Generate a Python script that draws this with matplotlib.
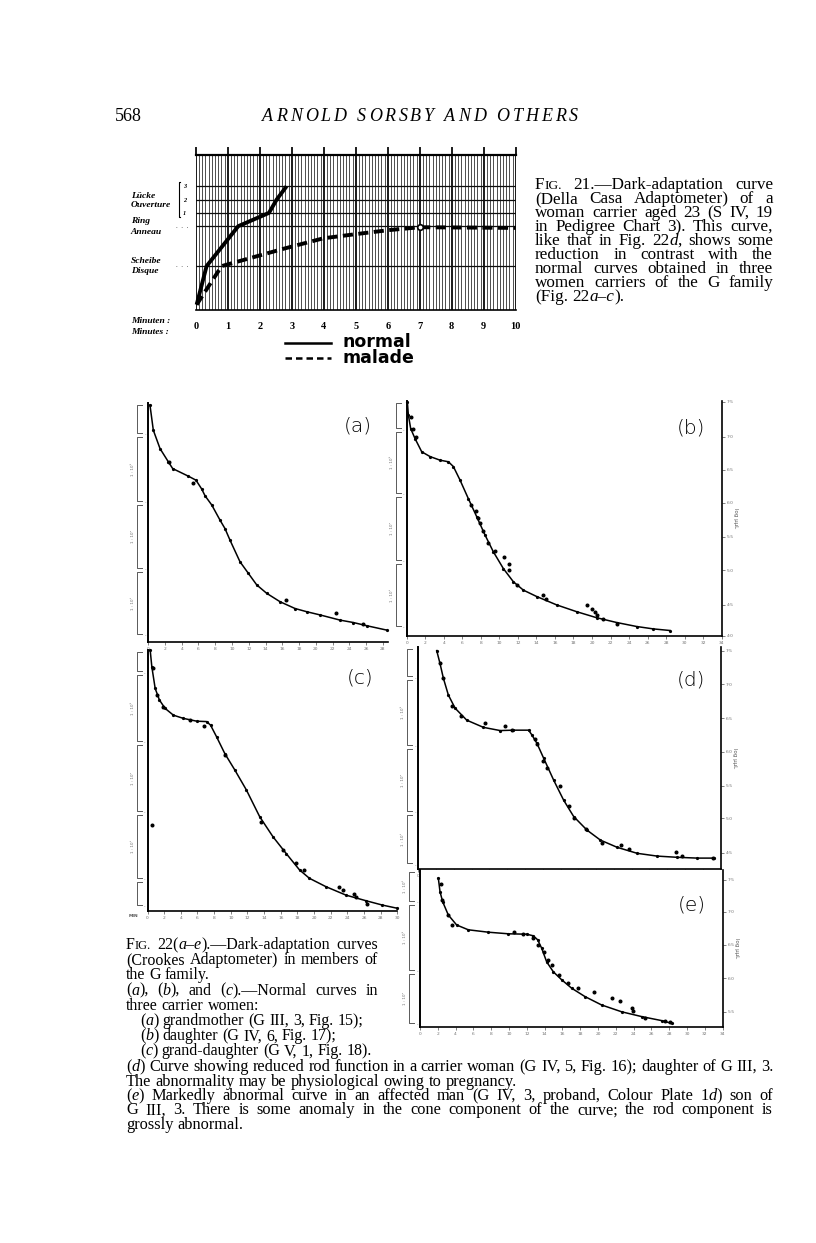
import re
import matplotlib
matplotlib.use('Agg')
import matplotlib.pyplot as plt
import matplotlib.transforms as mtransforms
from matplotlib.lines import Line2D

W, H = 816, 1243
SERIF = ['Liberation Serif', 'DejaVu Serif']

# ---------------------------------------------------------------- Fig. 21 data
minutes = [0, 1, 2, 3, 4, 5, 6, 7, 8, 9, 10]
level_pos = [3.3, 6.3, 7.3, 8.3, 9.3]          # Scheibe, Ring, Luecke 1, 2, 3
normal_t = [0.03, 0.34, 1.33, 2.29, 2.53, 2.84]
normal_v = [0.4, 3.3, 6.3, 7.3, 8.3, 9.3]
malade_t = [0.03, 0.81, 2.74, 3.99, 5.03, 6.02, 7.0, 10.0]
malade_v = [0.4, 3.3, 4.6, 5.39, 5.71, 6.0, 6.22, 6.17]

# ---------------------------------------------------------------- Fig. 22 data (minutes, log units)
a_t = [0.21, 0.61, 1.41, 2.40, 2.92, 4.79, 5.70, 6.38, 6.78, 7.58, 8.57, 9.16, 9.76, 10.95,
       11.95, 12.95, 14.14, 15.73, 17.52, 18.91, 20.50, 22.89, 24.47, 26.07, 28.46]
a_v = [5.92, 5.29, 4.83, 4.50, 4.33, 4.14, 4.04, 3.82, 3.65, 3.42, 3.04, 2.83, 2.54, 2.00,
       1.71, 1.42, 1.21, 1.00, 0.83, 0.75, 0.67, 0.54, 0.48, 0.40, 0.29]
a_dt = [2.52, 5.38, 16.4, 22.41, 25.6]
a_dv = [4.50, 3.96, 1.05, 0.71, 0.44]

b_t = [0.07, 0.18, 0.43, 0.90, 1.62, 2.52, 3.60, 4.50, 5.04, 5.76, 6.65, 7.55, 8.45, 9.35,
       10.43, 11.51, 12.59, 14.03, 16.19, 18.35, 20.50, 22.66, 24.82, 26.62, 28.42]
b_v = [5.85, 5.52, 5.18, 4.93, 4.60, 4.48, 4.39, 4.35, 4.23, 3.89, 3.43, 2.98, 2.52, 2.10,
       1.68, 1.35, 1.14, 0.98, 0.77, 0.60, 0.45, 0.33, 0.23, 0.17, 0.13]
b_dt = [0.47, 0.65, 1.01, 6.91, 7.48, 7.66, 7.91, 8.27, 8.74, 9.53, 10.50, 11.04, 11.08,
        11.87, 14.75, 15.04, 19.42, 19.96, 20.32, 20.58, 21.22, 22.66]
b_dv = [5.48, 5.16, 4.98, 3.28, 3.12, 2.95, 2.81, 2.62, 2.31, 2.13, 1.98, 1.79, 1.64,
        1.28, 1.02, 0.93, 0.77, 0.68, 0.60, 0.52, 0.42, 0.30]

c_t = [0.32, 0.52, 0.92, 1.43, 2.11, 3.11, 4.30, 5.90, 7.09, 7.57, 8.29, 9.28, 10.48, 11.87,
       13.47, 15.06, 16.65, 18.25, 19.44, 21.43, 23.82, 26.22, 28.21, 30.0]
c_v = [6.52, 6.10, 5.56, 5.27, 5.06, 4.89, 4.81, 4.74, 4.73, 4.64, 4.35, 3.93, 3.52, 3.02,
       2.35, 1.85, 1.43, 1.02, 0.81, 0.60, 0.39, 0.25, 0.14, 0.06]
c_dt = [0.72, 1.20, 1.83, 5.10, 6.77, 0.56, 9.28, 13.67, 16.25, 17.85, 18.84, 22.94, 23.42,
        24.81, 25.02, 26.41]
c_dv = [6.06, 5.39, 5.10, 4.78, 4.63, 2.14, 3.89, 2.23, 1.52, 1.20, 1.03, 0.60, 0.52,
        0.43, 0.35, 0.18]

d_t = [2.07, 2.44, 2.82, 3.38, 4.14, 5.45, 7.33, 9.21, 10.71, 12.41, 12.78, 13.35, 14.10,
       15.23, 16.35, 17.48, 18.98, 20.49, 22.37, 24.62, 26.88, 29.14, 31.39, 33.27]
d_v = [5.47, 5.15, 4.78, 4.36, 4.03, 3.73, 3.55, 3.47, 3.48, 3.48, 3.36, 3.15, 2.78,
       2.23, 1.73, 1.32, 0.98, 0.73, 0.55, 0.40, 0.33, 0.30, 0.28, 0.28]
d_dt = [2.44, 2.74, 3.76, 4.81, 7.52, 9.70, 10.53, 13.16, 13.35, 14.02, 14.47, 15.98, 16.92,
        17.48, 18.91, 20.68, 22.86, 23.76, 28.95, 29.62, 33.16]
d_dv = [5.17, 4.78, 4.09, 3.83, 3.67, 3.58, 3.48, 3.26, 3.13, 2.72, 2.53, 2.09, 1.59,
        1.28, 1.00, 0.67, 0.60, 0.51, 0.43, 0.33, 0.28]

e_t = [2.06, 2.25, 2.55, 3.18, 4.12, 5.43, 7.68, 9.93, 11.99, 12.73, 13.22, 13.67, 14.23,
       14.98, 15.92, 17.04, 18.54, 20.41, 22.66, 24.91, 27.15, 28.28]
e_v = [3.67, 3.33, 3.08, 2.75, 2.50, 2.38, 2.32, 2.28, 2.27, 2.23, 2.13, 1.92, 1.58,
       1.33, 1.13, 0.92, 0.71, 0.50, 0.33, 0.21, 0.11, 0.04]
e_dt = [2.32, 2.51, 3.11, 3.63, 10.56, 11.61, 12.66, 13.30, 13.97, 14.42, 14.79, 15.66,
        16.67, 17.72, 19.59, 21.54, 22.47, 23.78, 23.90, 25.28, 27.53, 28.09]
e_dv = [3.53, 3.13, 2.75, 2.50, 2.33, 2.28, 2.17, 2.00, 1.83, 1.63, 1.50, 1.25,
        1.04, 0.93, 0.83, 0.68, 0.61, 0.42, 0.35, 0.18, 0.11, 0.07]

right_labels = ['7·5', '7·0', '6·5', '6·0', '5·5', '5·0', '4·5', '4·0']
left_labels = ['1 : 10⁶', '1 : 10⁵', '1 : 10⁴', '1 : 10³', '1 : 10²']

fig = plt.figure(figsize=(W / 100, H / 100), dpi=100)
renderer = fig.canvas.get_renderer()


def T(x, y, s, size, **kw):
    kw.setdefault('family', SERIF)
    return fig.text(x / W, 1 - y / H, s, fontsize=size, **kw)


def segs(word):
    out = []
    for part in re.split(r'(\*[^*]+\*|\^[^^]+\^)', word):
        if not part:
            continue
        if part[0] == '*':
            out.append((part[1:-1], 'i'))
        elif part[0] == '^':
            out.append((part[1:-1], 's'))
        else:
            out.append((part, 'n'))
    return out


def put_line(x, y, line, size, width=None):
    words, widths = [], []
    for w in line.split(' '):
        if not w:
            continue
        parts = []
        for s, st in segs(w):
            t = T(0, y, s, size * 0.78 if st == 's' else size,
                  style='italic' if st == 'i' else 'normal', va='baseline')
            parts.append((t, t.get_window_extent(renderer).width))
        words.append(parts)
        widths.append(sum(p[1] for p in parts))
    gap = size * 100 / 72 * 0.25
    if width and len(words) > 1:
        gap = max(gap * 0.8, (width - sum(widths)) / (len(words) - 1))
    cx = x
    for parts, wd in zip(words, widths):
        sx = cx
        for t, b in parts:
            t.set_x(sx / W)
            sx += b
        cx += wd + gap


def tracked(x0, x1, y, s, size, **kw):
    arts = [T(0, y, ch, size, va='baseline', **kw) for ch in s]
    ws = [a.get_window_extent(renderer).width for a in arts]
    gap = (x1 - x0 - sum(ws)) / (len(s) - 1)
    cx = x0
    for a, w in zip(arts, ws):
        a.set_x(cx / W)
        cx += w + gap


# ---------------------------------------------------------------- running head
T(115, 121, '568', 13, va='baseline')
tracked(262, 578, 121, 'ARNOLD SORSBY AND OTHERS', 13, style='italic')

# ---------------------------------------------------------------- Fig. 21 chart
X0, X1, Y0, Y1 = 195.7, 515.7, 155, 310
ax = fig.add_axes([X0 / W, 1 - Y1 / H, (X1 - X0) / W, (Y1 - Y0) / H])
top = 11.65
ax.set_xlim(0, 10)
ax.set_ylim(0, top)
for i in range(101):
    major = i % 10 == 0
    ax.plot([i / 10, i / 10], [0, top], color='0.1' if major else '0.3',
            lw=1.4 if major else 0.7, zorder=1)
for m in minutes:
    ax.plot([m, m], [top, top + 0.55], color='0.1', lw=1.4, clip_on=False)
for lv in level_pos:
    ax.plot([0, 10], [lv, lv], color='0.05', lw=0.9, zorder=1)
ax.plot([0, 10], [top, top], color='k', lw=1.6, clip_on=False)
ax.plot([0, 10], [0, 0], color='k', lw=1.2, clip_on=False)
for s in ax.spines.values():
    s.set_visible(False)
ax.plot(normal_t, normal_v, color='k', lw=2.8, solid_capstyle='butt', zorder=3,
        clip_on=False, label='normal')
ax.plot(malade_t, malade_v, color='k', lw=2.8, dashes=(2.6, 1.4), zorder=3,
        clip_on=False, label='malade')
ax.plot([7.0], [6.22], 'o', ms=4, mfc='white', mec='k', mew=1.2, zorder=4)
ax.set_yticks([])
ax.set_xticks(minutes)
ax.set_xticklabels([str(m) for m in minutes], fontsize=7.5, fontweight='bold', family=SERIF)
ax.tick_params(axis='x', length=0, pad=9)

lab = dict(size=6.8, style='italic', weight='bold', va='baseline')
T(131, 198, 'Lücke', **lab)
T(131, 207, 'Ouverture', **lab)
T(131, 223, 'Ring', **lab)
T(131, 234, 'Anneau', **lab)
T(131, 263, 'Scheibe', **lab)
T(131, 273, 'Disque', **lab)
T(131, 323, 'Minuten :', **lab)
T(131, 334, 'Minutes :', **lab)
for yy in (226, 265.7):
    T(176, yy, '.  .  .', 5, va='center')
fig.add_artist(Line2D([180 / W, 178.5 / W, 178.5 / W, 180 / W],
                      [1 - 182 / H, 1 - 182 / H, 1 - 217 / H, 1 - 217 / H], color='k', lw=0.8))
for yy, s in zip((186.7, 200, 213.3), ('3', '2', '1')):
    T(183, yy, s, 4.5, style='italic', weight='bold', va='center')

# legend of Fig. 21
fig.add_artist(Line2D([285 / W, 331 / W], [1 - 342.5 / H] * 2, color='k', lw=1.8))
fig.add_artist(Line2D([285 / W, 331 / W], [1 - 358 / H] * 2, color='k', lw=1.8, dashes=(2.6, 1.6)))
T(342, 342, 'normal', 12.5, family=['DejaVu Sans'], weight='bold', va='center')
T(342, 358, 'malade', 12.5, family=['DejaVu Sans'], weight='bold', va='center')

# Fig. 21 caption
CAP = 12.3
cap21 = ['F^IG.^ 21.—Dark-adaptation curve',
         '(Della Casa Adaptometer) of a',
         'woman carrier aged 23 (S IV, 19',
         'in Pedigree Chart 3).  This curve,',
         'like that in Fig. 22*d*, shows some',
         'reduction in contrast with the',
         'normal curves obtained in three',
         'women carriers of the G family',
         '(Fig. 22*a–c*).']
for i, line in enumerate(cap21):
    put_line(535, 189 + 14 * i, line, CAP, None if i == len(cap21) - 1 else 238)


# ---------------------------------------------------------------- Fig. 22 panels
def panel(rect, xmax, ylim, cx, cy, dx, dy, tag, tag_xy, xticks, edges,
          right_ticks=None):
    x0, y0, x1, y1 = rect
    p = fig.add_axes([x0 / W, 1 - y1 / H, (x1 - x0) / W, (y1 - y0) / H])
    p.set_xlim(0, xmax)
    p.set_ylim(*ylim)
    p.plot(cx, cy, color='k', lw=1.1, marker='o', ms=1.3, clip_on=False)
    p.plot(dx, dy, 'o', color='k', ms=1.9, clip_on=False)
    p.spines['top'].set_visible(False)
    p.spines['left'].set_linewidth(1.4)
    p.spines['bottom'].set_linewidth(1.2)
    p.set_xticks(xticks)
    p.set_xticklabels([str(v) for v in xticks])
    p.tick_params(axis='x', length=2, width=0.5, labelsize=3.2, labelcolor='0.45',
                  color='0.3', pad=1.5)
    if right_ticks is None:
        p.spines['right'].set_visible(False)
        p.set_yticks([])
    else:
        p.spines['right'].set_linewidth(1.2)
        p.yaxis.tick_right()
        p.set_yticks(right_ticks)
        p.set_yticklabels(right_labels[:len(right_ticks)])
        p.tick_params(axis='y', length=2, width=0.5, labelsize=3.2, labelcolor='0.45',
                      color='0.3', pad=1.5)
        T(x1 + 14, (y0 + y1) / 2, 'log μμL', 4, color='0.35', rotation=270,
          ha='center', va='center', family=['DejaVu Sans'])
    tr = mtransforms.blended_transform_factory(p.transAxes, p.transData)
    wpx = x1 - x0
    g = 0.05
    for k, (hi, lo) in enumerate(zip(edges[:-1], edges[1:])):
        p.plot([-6 / wpx, -11 / wpx, -11 / wpx, -6 / wpx],
               [hi - g, hi - g, lo + g, lo + g], color='0.35', lw=0.7,
               transform=tr, clip_on=False)
        if hi - lo > 0.8:
            p.text(-15 / wpx, (hi + lo) / 2, left_labels[k % len(left_labels)],
                   transform=tr, rotation=90, fontsize=3, color='0.45',
                   ha='center', va='center', family=['DejaVu Sans'])
        p.text(-3 / wpx, lo, '·', transform=tr, fontsize=4, color='0.4',
               ha='center', va='center')
    T(tag_xy[0], tag_xy[1], tag, 14.5, family=['DejaVu Sans'], weight='light',
      ha='center', va='center')
    return p


even30 = list(range(0, 31, 2))
even34 = list(range(0, 35, 2))

panel((148.2, 403, 387.9, 641.7), 28.6, (0, 5.97), a_t, a_v, a_dt, a_dv,
      '(a)', (358, 426), list(range(0, 29, 2)), [5.97, 5.17, 3.47, 1.79, 0.14])
panel((406.7, 401, 721.7, 635.7), 34, (0, 5.87), b_t, b_v, b_dt, b_dv,
      '(b)', (691, 428), even34, [5.87, 5.14, 3.52, 1.84, 0.19],
      right_ticks=[5.85, 4.98, 4.15, 3.32, 2.48, 1.64, 0.78, 0])
panel((147.5, 650, 397.4, 910.7), 30, (0, 6.52), c_t, c_v, c_dt, c_dv,
      '(c)', (360, 678), even30, [6.52, 5.94, 4.19, 2.44, 0.77, 0.1])
T(129, 916, 'MIN', 3.2, color='0.35', va='center', family=['DejaVu Sans'], weight='bold')
panel((418.3, 647, 720.5, 869.3), 34, (0, 5.56), d_t, d_v, d_dt, d_dv,
      '(d)', (691, 680), even34, [5.56, 4.78, 3.06, 1.41, 0.1],
      right_ticks=[5.47, 4.63, 3.78, 2.94, 2.09, 1.28, 0.42])
panel((420, 870, 722.6, 1027), 34, (-0.05, 3.875), e_t, e_v, e_dt, e_dv,
      '(e)', (692, 905), even34, [3.875, 3.05, 1.33, 0.0],
      right_ticks=[3.63, 2.83, 2.0, 1.17, 0.33])

# ---------------------------------------------------------------- Fig. 22 caption
CAPL = 11.5
cap22 = [('F^IG.^ 22(*a–e*).—Dark-adaptation curves', 126, True),
         ('(Crookes Adaptometer) in members of', 126, True),
         ('the G family.', 126, False),
         ('(*a*), (*b*), and (*c*).—Normal curves in', 126, True),
         ('three carrier women:', 126, False),
         ('(*a*) grandmother (G III, 3, Fig. 15);', 140, False),
         ('(*b*) daughter (G IV, 6, Fig. 17);', 140, False),
         ('(*c*) grand-daughter (G V, 1, Fig. 18).', 140, False)]
for i, (line, x, just) in enumerate(cap22):
    put_line(x, 949 + 15.2 * i, line, CAPL, 252 if just else None)

CAPB = 11.8
cap22b = [('(*d*) Curve showing reduced rod function in a carrier woman (G IV, 5, Fig. 16);  daughter of G III, 3.', True),
          ('The abnormality may be physiological owing to pregnancy.', False),
          ('(*e*) Markedly abnormal curve in an affected man (G IV, 3, proband, Colour Plate 1*d*) son of', True),
          ('G III, 3.  There is some anomaly in the cone component of the curve;  the rod component is', True),
          ('grossly abnormal.', False)]
for i, (line, just) in enumerate(cap22b):
    put_line(126, 1071 + 14.5 * i, line, CAPB, 647 if just else None)

fig.savefig('out.png', dpi=100)
